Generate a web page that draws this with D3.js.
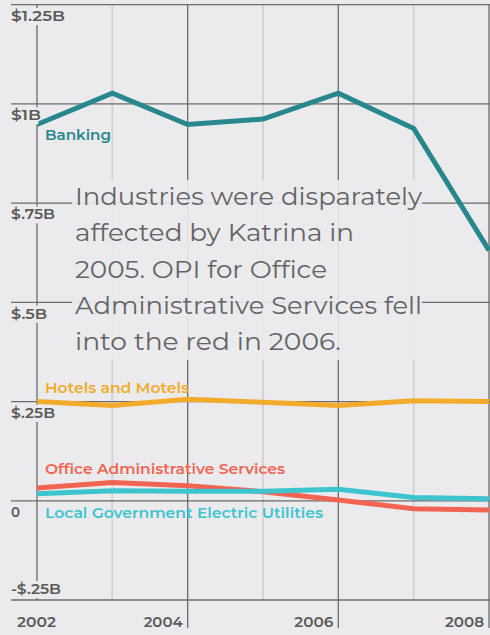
<!DOCTYPE html>
<html>
<head>
<meta charset="utf-8">
<script src="https://cdn.jsdelivr.net/npm/d3@7"></script>
<style>
  html, body { margin: 0; padding: 0; background: #ebebed; }
  svg { display: block; }
  text { font-family: Montserrat, "Open Sans", "Noto Sans", sans-serif; }
</style>
</head>
<body>
<svg id="chart" width="490" height="635"></svg>
<script>
// ---- data ----
const years = [2002, 2003, 2004, 2005, 2006, 2007, 2008];
const banking = [0.948, 1.027, 0.948, 0.962, 1.027, 0.938, 0.631];
const hotels = [0.250, 0.240, 0.256, 0.248, 0.240, 0.252, 0.250];
const officeAdmin = [0.032, 0.046, 0.038, 0.023, 0.002, -0.020, -0.023];
const localGov = [0.018, 0.025, 0.024, 0.024, 0.029, 0.008, 0.005];
const seriesNames = ["Banking", "Hotels and Motels", "Office Administrative Services", "Local Government Electric Utilities"];
const yTicks = [1.25, 1, 0.75, 0.5, 0.25, 0, -0.25];
const yTickLabels = ["$1.25B", "$1B", "$.75B", "$.5B", "$.25B", "0", "-$.25B"];
const xTicks = [2002, 2004, 2006, 2008];
const xTickLabels = ["2002", "2004", "2006", "2008"];
const minorYears = [2003, 2005, 2007];
const annotationLines = [
  "Industries were disparately",
  "affected by Katrina in",
  "2005. OPI for Office",
  "Administrative Services fell",
  "into the red in 2006."
];

// ---- style ----
const colors = ["#27878c", "#f2ab2b", "#f26452", "#3ec4cf"];
const labelDy = [15, -9, -14, 24];
const labelWidths = [66, 144, 240, 278];
const annWidths = [347, 279, 252, 347, 266];
const bg = "#ebebed";

const svg = d3.select("#chart");
const x = d3.scaleLinear().domain([2002, 2008]).range([37, 489]);
const y = d3.scaleLinear().domain([-0.25, 1.25]).range([600, 4.7]);

// minor vertical gridlines
svg.append("g").selectAll("line").data(minorYears).join("line")
  .attr("x1", d => x(d)).attr("x2", d => x(d))
  .attr("y1", y(1.25)).attr("y2", y(-0.25))
  .attr("stroke", "#d4d4d6").attr("stroke-width", 2);

// major vertical gridlines
svg.append("g").selectAll("line").data(xTicks).join("line")
  .attr("x1", d => x(d)).attr("x2", d => x(d))
  .attr("y1", y(1.25))
  .attr("y2", (d, i) => i === 0 ? y(-0.25) : 628)
  .attr("stroke", "#6b6b6b").attr("stroke-width", 1.3);

// horizontal gridlines
svg.append("g").selectAll("line").data(yTicks).join("line")
  .attr("x1", 11).attr("x2", 490)
  .attr("y1", d => y(d)).attr("y2", d => y(d))
  .attr("stroke", "#6b6b6b").attr("stroke-width", 1.3);

// series lines
const allSeries = [banking, hotels, officeAdmin, localGov];
const line = d3.line().x((d, i) => x(years[i])).y(d => y(d));
const order = [1, 0, 2, 3];
svg.append("g").selectAll("path").data(order).join("path")
  .attr("d", k => line(allSeries[k]))
  .attr("fill", "none")
  .attr("stroke", k => colors[k])
  .attr("stroke-width", 5)
  .attr("stroke-linejoin", "miter");

// series labels
svg.append("g").selectAll("text").data(seriesNames).join("text")
  .attr("x", 45)
  .attr("y", (d, i) => y(allSeries[i][0]) + labelDy[i])
  .attr("fill", (d, i) => colors[i])
  .attr("font-size", 15)
  .attr("font-weight", 600)
  .attr("textLength", (d, i) => labelWidths[i])
  .attr("lengthAdjust", "spacingAndGlyphs")
  .text(d => d);

// annotation
svg.append("rect")
  .attr("x", 72).attr("y", 180).attr("width", 350).attr("height", 180)
  .attr("fill", bg).attr("opacity", 0.9);
svg.append("g").selectAll("text").data(annotationLines).join("text")
  .attr("x", 75)
  .attr("y", (d, i) => 205 + i * 36.3)
  .attr("fill", "#646464")
  .attr("font-size", 25)
  .attr("font-weight", 400)
  .attr("textLength", (d, i) => annWidths[i])
  .attr("lengthAdjust", "spacingAndGlyphs")
  .text(d => d);

// y labels with background
const yl = svg.append("g").selectAll("g").data(yTicks).join("g")
  .attr("transform", (d, i) => `translate(11,${y(d) + (i === yTicks.length - 1 ? -6 : 16.3)})`);
yl.append("text")
  .attr("fill", "#5a5a5a")
  .attr("font-size", 15)
  .attr("font-weight", 600)
  .text((d, i) => yTickLabels[i]);
yl.each(function() {
  const g = d3.select(this);
  const bb = g.select("text").node().getBBox();
  g.insert("rect", "text")
    .attr("x", bb.x - 1).attr("y", -13).attr("width", bb.width + 2).attr("height", 17)
    .attr("fill", bg);
});
// fit label widths
const yLabelWidths = [54, 30, 44, 36, 44, 9, 50];
yl.select("text").attr("textLength", (d, i) => yLabelWidths[i]).attr("lengthAdjust", "spacingAndGlyphs");

// x labels
svg.append("g").selectAll("text").data(xTicks).join("text")
  .attr("x", (d, i) => i === 0 ? 17 : x(d) - 5)
  .attr("y", 627)
  .attr("text-anchor", (d, i) => i === 0 ? "start" : "end")
  .attr("fill", "#5a5a5a")
  .attr("font-size", 15)
  .attr("font-weight", 600)
  .attr("textLength", 39)
  .attr("lengthAdjust", "spacingAndGlyphs")
  .text((d, i) => xTickLabels[i]);
</script>
</body>
</html>
